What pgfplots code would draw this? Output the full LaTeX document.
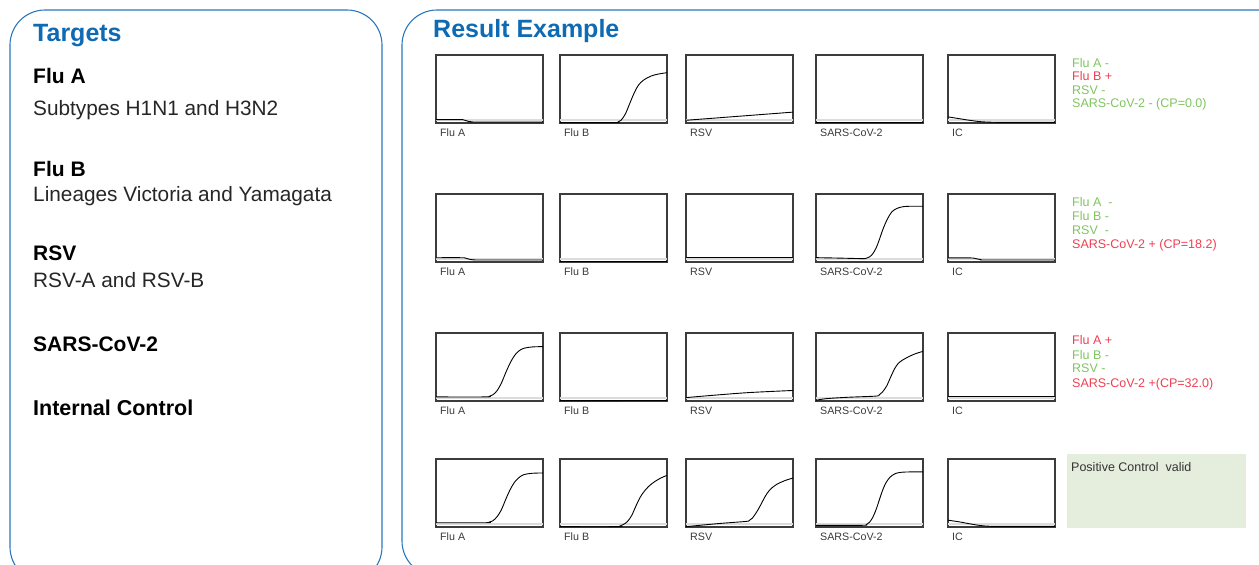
\documentclass[border=0pt]{standalone}
\usepackage{fontspec}
\setmainfont{Liberation Sans}
\usepackage{xcolor}
\usepackage{pgfplots}
\pgfplotsset{compat=1.18}
\definecolor{boxblue}{HTML}{2B77BE}
\definecolor{titleblue}{HTML}{0F6AB4}
\definecolor{okg}{HTML}{7FC45F}
\definecolor{posr}{HTML}{EE3F52}
\definecolor{frame}{HTML}{3C3C3C}
\definecolor{thr}{HTML}{DCDCDC}
\definecolor{validbg}{HTML}{E5EEDD}
\definecolor{labgray}{HTML}{3A3A3A}
\pgfplotsset{
  panel/.style={
    scale only axis, width=107pt, height=68pt,
    xmin=0, xmax=1, ymin=0, ymax=1,
    xtick=\empty, ytick=\empty,
    axis line style={line width=1.1pt, draw=frame},
    clip=false, anchor=north west,
    every axis x label/.style={at={(rel axis cs:0,0)}, anchor=north west,
      inner sep=0pt, xshift=4pt, yshift=-6pt,
      font=\fontsize{10.7}{12}\selectfont, text=labgray},
  },
  curve/.style={black, line width=0.9pt, smooth, tension=0.55, mark=none},
  thrline/.style={thr, line width=1.3pt, mark=none},
}
\newcommand{\thresh}{\addplot[thrline] coordinates {(0,0.045) (1,0.045)};}

\begin{document}
\begin{tikzpicture}
\useasboundingbox (0,0) rectangle (1259pt,-565pt);

% frames
\draw[boxblue, line width=1.1pt, rounded corners=35pt] (10pt,-10pt) rectangle (382pt,-582pt);
\draw[boxblue, line width=1.1pt, rounded corners=35pt] (402pt,-10pt) rectangle (1300pt,-576pt);

% left panel text
\node[anchor=base west, inner sep=0pt, font=\bfseries\fontsize{25}{28}\selectfont, text=titleblue] at (33pt,-41pt) {Targets};
\begin{scope}[every node/.style={anchor=base west, inner sep=0pt}]
\node[font=\bfseries\fontsize{21}{24}\selectfont] at (33pt,-83pt) {Flu A};
\node[font=\fontsize{20.8}{24}\selectfont, text=black!85] at (33pt,-115pt) {Subtypes H1N1 and H3N2};
\node[font=\bfseries\fontsize{21}{24}\selectfont] at (33pt,-176pt) {Flu B};
\node[font=\fontsize{20.8}{24}\selectfont, text=black!85] at (33pt,-201pt) {Lineages Victoria and Yamagata};
\node[font=\bfseries\fontsize{21}{24}\selectfont] at (33pt,-260pt) {RSV};
\node[font=\fontsize{20.8}{24}\selectfont, text=black!85] at (33pt,-287pt) {RSV-A and RSV-B};
\node[font=\bfseries\fontsize{21}{24}\selectfont] at (33pt,-351pt) {SARS-CoV-2};
\node[font=\bfseries\fontsize{21.5}{24}\selectfont] at (33pt,-415pt) {Internal Control};
\end{scope}

\node[anchor=base west, inner sep=0pt, font=\bfseries\fontsize{25}{28}\selectfont, text=titleblue] at (433pt,-37pt) {Result Example};

% ---------- row 1 ----------
\begin{axis}[panel, at={(436pt,-55pt)}, xlabel={Flu A}]
\thresh
\addplot[curve] coordinates {(0,0.05) (0.22,0.05) (0.26,0.045) (0.30,0.025) (0.34,0.016) (0.4,0.015) (1,0.015)};
\end{axis}
\begin{axis}[panel, at={(560pt,-55pt)}, xlabel={Flu B}]
\thresh
\addplot[curve] coordinates {(0,0.005) (0.5,0.005) (0.54,0.012) (0.57,0.04) (0.61,0.13) (0.65,0.28) (0.69,0.43) (0.73,0.55) (0.78,0.63) (0.85,0.69) (0.92,0.72) (1,0.74)};
\end{axis}
\begin{axis}[panel, at={(686pt,-55pt)}, xlabel={RSV}]
\thresh
\addplot[curve] coordinates {(0,0.04) (1,0.16)};
\end{axis}
\begin{axis}[panel, at={(816pt,-55pt)}, xlabel={SARS-CoV-2}]
\thresh
\addplot[curve] coordinates {(0,0.005) (1,0.005)};
\end{axis}
\begin{axis}[panel, at={(948pt,-55pt)}, xlabel={IC}]
\thresh
\addplot[curve] coordinates {(0,0.09) (0.1,0.065) (0.2,0.04) (0.3,0.02) (0.4,0.012) (0.5,0.01) (1,0.01)};
\end{axis}

% ---------- row 2 ----------
\begin{axis}[panel, at={(436pt,-194pt)}, xlabel={Flu A}]
\thresh
\addplot[curve] coordinates {(0,0.063) (0.24,0.063) (0.28,0.055) (0.32,0.037) (0.36,0.031) (0.42,0.03) (1,0.03)};
\end{axis}
\begin{axis}[panel, at={(560pt,-194pt)}, xlabel={Flu B}]
\thresh
\addplot[curve] coordinates {(0,0.005) (1,0.005)};
\end{axis}
\begin{axis}[panel, at={(686pt,-194pt)}, xlabel={RSV}]
\thresh
\addplot[curve] coordinates {(0,0.063) (1,0.063)};
\end{axis}
\begin{axis}[panel, at={(816pt,-194pt)}, xlabel={SARS-CoV-2}]
\thresh
\addplot[curve] coordinates {(0,0.064) (0.2,0.058) (0.43,0.05) (0.47,0.055) (0.50,0.075) (0.53,0.12) (0.56,0.2) (0.59,0.32) (0.63,0.5) (0.67,0.64) (0.71,0.74) (0.76,0.79) (0.82,0.815) (0.9,0.82) (1,0.82)};
\end{axis}
\begin{axis}[panel, at={(948pt,-194pt)}, xlabel={IC}]
\thresh
\addplot[curve] coordinates {(0,0.06) (0.21,0.06) (0.26,0.05) (0.31,0.033) (0.36,0.03) (1,0.03)};
\end{axis}

% ---------- row 3 ----------
\begin{axis}[panel, at={(436pt,-333pt)}, xlabel={Flu A}]
\thresh
\addplot[curve] coordinates {(0,0.06) (0.46,0.06) (0.50,0.07) (0.53,0.09) (0.57,0.15) (0.61,0.26) (0.65,0.41) (0.69,0.55) (0.73,0.66) (0.77,0.73) (0.82,0.775) (0.9,0.795) (1,0.8)};
\end{axis}
\begin{axis}[panel, at={(560pt,-333pt)}, xlabel={Flu B}]
\thresh
\addplot[curve] coordinates {(0,0.005) (1,0.008)};
\end{axis}
\begin{axis}[panel, at={(686pt,-333pt)}, xlabel={RSV}]
\thresh
\addplot[curve] coordinates {(0,0.05) (0.3,0.09) (0.6,0.125) (1,0.155)};
\end{axis}
\begin{axis}[panel, at={(816pt,-333pt)}, xlabel={SARS-CoV-2}]
\thresh
\addplot[curve] coordinates {(0,0.01) (0.1,0.035) (0.3,0.055) (0.56,0.072) (0.59,0.09) (0.62,0.13) (0.66,0.22) (0.7,0.36) (0.74,0.49) (0.78,0.57) (0.84,0.63) (0.92,0.69) (1,0.73)};
\end{axis}
\begin{axis}[panel, at={(948pt,-333pt)}, xlabel={IC}]
\thresh
\addplot[curve] coordinates {(0,0.06) (1,0.06)};
\end{axis}

% ---------- row 4 ----------
\begin{axis}[panel, at={(436pt,-459pt)}, xlabel={Flu A}]
\thresh
\addplot[curve] coordinates {(0,0.063) (0.46,0.063) (0.50,0.073) (0.53,0.09) (0.57,0.15) (0.61,0.25) (0.65,0.4) (0.69,0.54) (0.73,0.65) (0.77,0.72) (0.82,0.77) (0.9,0.79) (1,0.795)};
\end{axis}
\begin{axis}[panel, at={(560pt,-459pt)}, xlabel={Flu B}]
\thresh
\addplot[curve] coordinates {(0,0.005) (0.52,0.005) (0.56,0.015) (0.59,0.035) (0.63,0.08) (0.67,0.17) (0.71,0.31) (0.75,0.44) (0.8,0.55) (0.86,0.64) (0.93,0.71) (1,0.76)};
\end{axis}
\begin{axis}[panel, at={(686pt,-459pt)}, xlabel={RSV}]
\thresh
\addplot[curve] coordinates {(0,0.005) (0.3,0.05) (0.56,0.082) (0.59,0.095) (0.62,0.13) (0.66,0.22) (0.7,0.33) (0.74,0.45) (0.78,0.54) (0.84,0.62) (0.92,0.68) (1,0.72)};
\end{axis}
\begin{axis}[panel, at={(816pt,-459pt)}, xlabel={SARS-CoV-2}]
\thresh
\addplot[curve] coordinates {(0,0.025) (0.43,0.025) (0.47,0.035) (0.50,0.07) (0.53,0.14) (0.56,0.25) (0.59,0.39) (0.62,0.53) (0.65,0.64) (0.69,0.73) (0.74,0.785) (0.8,0.805) (0.88,0.81) (1,0.81)};
\end{axis}
\begin{axis}[panel, at={(948pt,-459pt)}, xlabel={IC}]
\thresh
\addplot[curve] coordinates {(0,0.10) (0.1,0.077) (0.2,0.048) (0.3,0.022) (0.38,0.012) (0.46,0.01) (1,0.01)};
\end{axis}

% ---------- results ----------
\begin{scope}[every node/.style={anchor=base west, inner sep=0pt, font=\fontsize{12.5}{14}\selectfont}]
\node[text=okg]  at (1072pt,-67pt)  {Flu A -};
\node[text=posr] at (1072pt,-80pt)  {Flu B +};
\node[text=okg]  at (1072pt,-94pt)  {RSV -};
\node[text=okg]  at (1072pt,-107pt) {SARS-CoV-2 - (CP=0.0)};
\node[text=okg]  at (1072pt,-206pt) {Flu A \ -};
\node[text=okg]  at (1072pt,-220pt) {Flu B -};
\node[text=okg]  at (1072pt,-234pt) {RSV \ -};
\node[text=posr] at (1072pt,-248pt) {SARS-CoV-2 + (CP=18.2)};
\node[text=posr] at (1072pt,-344pt) {Flu A +};
\node[text=okg]  at (1072pt,-359pt) {Flu B -};
\node[text=okg]  at (1072pt,-372pt) {RSV -};
\node[text=posr] at (1072pt,-387pt) {SARS-CoV-2 +(CP=32.0)};
\end{scope}
\fill[validbg] (1067pt,-454pt) rectangle (1246pt,-528pt);
\node[anchor=base west, inner sep=0pt, font=\fontsize{12.5}{14}\selectfont, text=black!80] at (1071pt,-471pt) {Positive Control\ \ valid};
\end{tikzpicture}
\end{document}
